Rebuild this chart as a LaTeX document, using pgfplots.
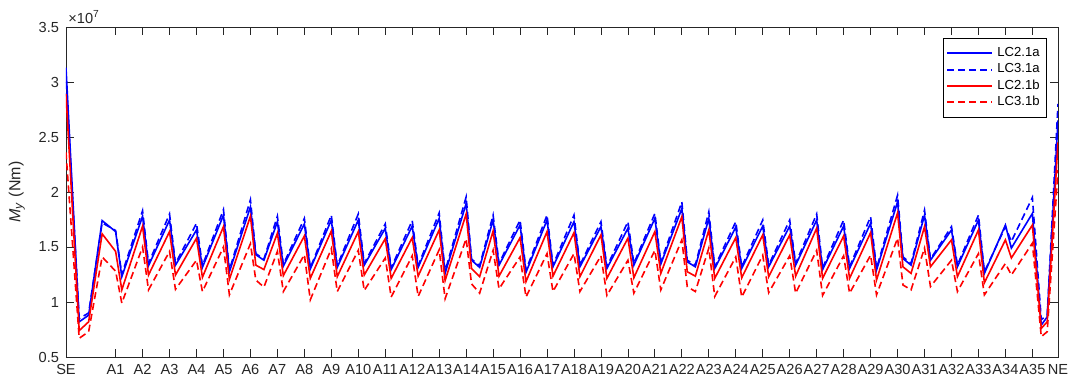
\documentclass[border=0pt]{standalone}
\usepackage{pgfplots}
\pgfplotsset{compat=1.18}
\usepackage{pgfplotstable}
\usepackage{fontspec}
\setmainfont{Liberation Sans}
\definecolor{mblue}{RGB}{0,0,255}
\definecolor{mred}{RGB}{255,0,0}
\definecolor{axgray}{RGB}{38,38,38}
\pgfplotstableread{
x bs bd rs rd
-0.84 3.13 3.00 2.89 2.36
-0.35 0.82 0.85 0.74 0.67
0.00 0.88 0.90 0.82 0.73
0.50 1.74 1.72 1.62 1.41
1.00 1.64 1.65 1.46 1.28
1.23 1.23 1.25 1.11 0.99
2.00 1.78 1.83 1.69 1.50
2.22 1.33 1.35 1.245 1.11
3.00 1.745 1.80 1.64 1.46
3.22 1.335 1.35 1.245 1.115
4.00 1.655 1.715 1.58 1.38
4.22 1.315 1.33 1.225 1.095
5.00 1.79 1.84 1.685 1.50
5.22 1.275 1.29 1.205 1.065
6.00 1.865 1.93 1.78 1.53
6.20 1.43 1.44 1.335 1.20
6.50 1.38 1.39 1.295 1.135
7.00 1.73 1.78 1.625 1.46
7.22 1.325 1.34 1.24 1.095
8.00 1.71 1.76 1.60 1.43
8.22 1.30 1.31 1.215 1.02
9.00 1.745 1.79 1.645 1.485
9.22 1.315 1.33 1.23 1.095
10.00 1.745 1.80 1.64 1.47
10.22 1.335 1.35 1.245 1.105
11.00 1.67 1.71 1.575 1.40
11.22 1.295 1.31 1.215 1.045
12.00 1.69 1.74 1.585 1.42
12.22 1.315 1.33 1.235 1.05
13.00 1.76 1.81 1.655 1.475
13.22 1.26 1.28 1.195 1.03
14.00 1.895 1.955 1.80 1.575
14.20 1.38 1.39 1.305 1.165
14.50 1.315 1.33 1.23 1.08
15.00 1.745 1.79 1.645 1.47
15.22 1.335 1.35 1.235 1.12
16.00 1.70 1.745 1.585 1.41
16.22 1.27 1.29 1.185 1.045
17.00 1.745 1.79 1.64 1.44
17.22 1.32 1.335 1.235 1.095
18.00 1.73 1.79 1.63 1.44
18.22 1.32 1.335 1.23 1.095
19.00 1.685 1.73 1.61 1.42
19.22 1.305 1.32 1.215 1.06
20.00 1.67 1.73 1.58 1.38
20.22 1.335 1.35 1.22 1.08
21.00 1.76 1.805 1.64 1.47
21.22 1.345 1.36 1.26 1.11
22.00 1.85 1.91 1.775 1.565
22.20 1.365 1.38 1.275 1.14
22.50 1.32 1.335 1.235 1.095
23.00 1.76 1.82 1.655 1.49
23.22 1.305 1.32 1.215 1.05
24.00 1.68 1.73 1.585 1.41
24.22 1.305 1.32 1.22 1.045
25.00 1.69 1.745 1.61 1.425
25.22 1.32 1.335 1.23 1.085
26.00 1.69 1.745 1.61 1.42
26.22 1.335 1.35 1.235 1.08
27.00 1.745 1.80 1.67 1.47
27.22 1.295 1.31 1.215 1.06
28.00 1.69 1.745 1.60 1.42
28.22 1.305 1.32 1.215 1.08
29.00 1.715 1.775 1.63 1.425
29.22 1.29 1.305 1.20 1.065
30.00 1.91 1.97 1.81 1.58
30.20 1.395 1.41 1.32 1.155
30.50 1.335 1.35 1.26 1.11
31.00 1.79 1.835 1.685 1.49
31.22 1.38 1.39 1.32 1.14
32.00 1.655 1.685 1.565 1.38
32.22 1.32 1.335 1.23 1.095
33.00 1.745 1.79 1.655 1.44
33.22 1.26 1.275 1.175 1.065
34.00 1.70 1.685 1.565 1.35
34.22 1.49 1.55 1.40 1.245
35.00 1.805 1.95 1.70 1.535
35.33 0.79 0.84 0.76 0.685
35.55 0.865 0.88 0.82 0.73
35.95 2.65 2.80 2.45 2.20
}\data
\begin{document}
\begin{tikzpicture}
\useasboundingbox (-33pt,-14pt) rectangle (503.5pt,178.5pt);
\begin{axis}[
  at={(0,0)}, anchor=south west,
  scale only axis, width=496pt, height=165pt,
  xmin=-0.84, xmax=35.95, ymin=0.5, ymax=3.5,
  xtick={-0.84,1,2,...,35,35.95},
  xticklabels={SE,A1,A2,A3,A4,A5,A6,A7,A8,A9,A10,A11,A12,A13,A14,A15,A16,A17,A18,A19,A20,A21,A22,A23,A24,A25,A26,A27,A28,A29,A30,A31,A32,A33,A34,A35,NE},
  ytick={0.5,1,1.5,2,2.5,3,3.5},
  yticklabels={0.5,1,1.5,2,2.5,3,3.5},
  tick align=inside, xtick pos=both, ytick pos=both,
  major tick length=4pt,
  every tick/.style={axgray, line width=0.4pt},
  axis line style={axgray, line width=0.4pt},
  tick label style={font=\fontsize{7.3}{8.5}\selectfont, text=axgray},
  xticklabel style={inner xsep=0pt},
  ylabel={\textit{M}\textsubscript{\textit{y}} (Nm)},
  ylabel style={font=\fontsize{8}{9.5}\selectfont, text=axgray},
  legend style={at={(axis description cs:0.9889,0.9667)}, anchor=north east,
    font=\fontsize{6.55}{7.5}\selectfont,
    inner xsep=1.5pt, inner ysep=2.5pt, row sep=-2pt},
  legend cell align=left,
  legend image code/.code={\draw[#1, line width=1pt] (0pt,0pt) -- (22.5pt,0pt);},
  clip mode=individual,
]
\addplot[color=mblue, line width=0.8pt] table[x=x,y=bs] {\data};
\addlegendentry{LC2.1a}
\addplot[color=mblue, line width=0.8pt, dash pattern=on 3.5pt off 2pt] table[x=x,y=bd] {\data};
\addlegendentry{LC3.1a}
\addplot[color=mred, line width=0.8pt] table[x=x,y=rs] {\data};
\addlegendentry{LC2.1b}
\addplot[color=mred, line width=0.8pt, dash pattern=on 3.5pt off 2pt] table[x=x,y=rd] {\data};
\addlegendentry{LC3.1b}
\node[anchor=south west, inner sep=0pt, text=axgray, font=\fontsize{7.3}{8.5}\selectfont] at (rel axis cs:0,1) [xshift=1pt, yshift=1.5pt] {×10\textsuperscript{7}};
\end{axis}
\end{tikzpicture}
\end{document}
